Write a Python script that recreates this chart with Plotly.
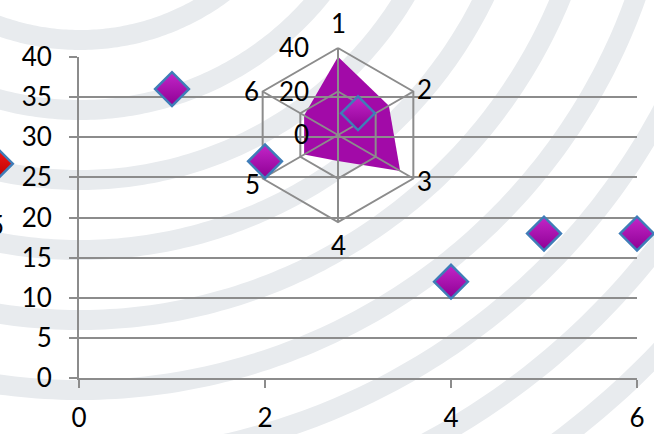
import numpy as np
import plotly.graph_objects as go

# ---------------- data ----------------
X_VALUES = [1, 2, 3, 4, 5, 6]
Y_VALUES = [36, 27, 33, 12, 18, 18]
RED_X = [-0.84]
RED_Y = [26.7]
RADAR_CATEGORIES = ["1", "2", "3", "4", "5", "6"]
RADAR_VALUES = [36, 27, 33, 12, 18, 18]
RADAR_TICKS = [0, 20, 40]
X_TICKS = [0, 2, 4, 6]
Y_TICKS = [0, 5, 10, 15, 20, 25, 30, 35, 40]

# ---------------- layout constants (pixels) ----------------
W, H = 654, 434
FONT = "Lato"
FS = 26
GRID = "#8C8C8C"
MAG = "#C326C8"
MAG_DARK = "#8E0094"
OUTLINE = "#3F7DB8"

# scatter plot area
PL, PR, PT, PB = 79, 637, 57, 378
X_RANGE = [0, 6]
Y_RANGE = [0, 40]
# radar: centre and radius (px) of the outer ring
RCX, RCY, RR = 338, 135, 87
RHALF = 130
RMAX = RADAR_TICKS[-1]
scale = RR / RMAX  # px per radar unit
rng = RHALF / scale

fig = go.Figure()

# ---------------- radar (drawn first, below the scatter grid) ----------------
n = len(RADAR_CATEGORIES)
ang = np.deg2rad(90 - 360.0 / n * np.arange(n))
rv = np.array(RADAR_VALUES, dtype=float)
fx = list(rv * np.cos(ang)) + [rv[0] * np.cos(ang[0])]
fy = list(rv * np.sin(ang)) + [rv[0] * np.sin(ang[0])]
fig.add_trace(go.Scatter(x=fx, y=fy, mode="lines", fill="toself",
                         fillcolor="#A20AA8", line=dict(width=0, color="#A20AA8"),
                         hoverinfo="skip", showlegend=False, xaxis="x", yaxis="y"))

gx, gy = [], []
for t in RADAR_TICKS[1:]:
    gx += list(t * np.cos(ang)) + [t * np.cos(ang[0]), None]
    gy += list(t * np.sin(ang)) + [t * np.sin(ang[0]), None]
for a in ang:
    gx += [0, RMAX * np.cos(a), None]
    gy += [0, RMAX * np.sin(a), None]
fig.add_trace(go.Scatter(x=gx, y=gy, mode="lines", line=dict(color=GRID, width=2),
                         hoverinfo="skip", showlegend=False, xaxis="x", yaxis="y"))

annotations = []
label_shift = [(0, 25), (11, 3), (11, -2), (0, -23), (-10, -5), (-11, 1)]
for cat, a, (dx, dy) in zip(RADAR_CATEGORIES, ang, label_shift):
    annotations.append(dict(x=RMAX * np.cos(a), y=RMAX * np.sin(a), xref="x", yref="y",
                            text=cat, showarrow=False, xanchor="center", yanchor="middle",
                            xshift=dx, yshift=dy, font=dict(family=FONT, size=FS, color="black")))
for t in RADAR_TICKS:
    annotations.append(dict(x=0, y=t, xref="x", yref="y", text=str(t), showarrow=False,
                            xanchor="right", yanchor="middle", xshift=-27, yshift=1,
                            font=dict(family=FONT, size=FS, color="black")))

# stray clipped label at the left edge
annotations.append(dict(x=-4 / W, y=1 - 225 / H, xref="paper", yref="paper", text="5",
                        showarrow=False, xanchor="center", yanchor="middle",
                        font=dict(family=FONT, size=FS, color="black")))

# ---------------- scatter (on top) ----------------
fig.add_trace(go.Scatter(x=X_VALUES, y=Y_VALUES, mode="markers", cliponaxis=False,
                         marker=dict(symbol="diamond", size=26, color=MAG,
                                     gradient=dict(type="vertical", color=MAG_DARK),
                                     line=dict(color=OUTLINE, width=2.5)),
                         showlegend=False, xaxis="x2", yaxis="y2"))
# red point lies left of the plot area: own subplot spanning to the figure edge
fig.add_trace(go.Scatter(x=RED_X, y=RED_Y, mode="markers", cliponaxis=False,
                         marker=dict(symbol="diamond", size=26, color="#F41A1A",
                                     gradient=dict(type="vertical", color="#B80000"),
                                     angle=90, standoff=5,
                                     line=dict(color=OUTLINE, width=2.5)),
                         showlegend=False, xaxis="x3", yaxis="y3"))

# ---------------- background watermark arcs ----------------
shapes = []
acx, acy = 80, -200
for k in range(10):
    r = 240 + 70 * k
    t = np.linspace(0, np.pi, 240)
    px = acx + r * np.cos(t)
    py = acy + r * np.sin(t)
    mask = (py > -30) & (px > -40) & (px < W + 40)
    px, py = px[mask], py[mask]
    if len(px) < 2:
        continue
    pts = [f"{x / W:.5f},{1 - y / H:.5f}" for x, y in zip(px, py)]
    shapes.append(dict(type="path", path="M " + " L ".join(pts), xref="paper", yref="paper",
                       line=dict(color="#E8EBEE", width=20), layer="below"))

axis_font = dict(family=FONT, size=FS, color="black")
px_per_x = (PR - PL) / (X_RANGE[1] - X_RANGE[0])
hidden = dict(visible=False, fixedrange=True, automargin=False)
fig.update_layout(
    width=W, height=H, margin=dict(l=0, r=0, t=0, b=0, pad=0), autosize=False,
    paper_bgcolor="white", plot_bgcolor="rgba(0,0,0,0)",
    showlegend=False, shapes=shapes, annotations=annotations,
    xaxis=dict(domain=[(RCX - RHALF) / W, (RCX + RHALF) / W], range=[-rng, rng],
               anchor="y", **hidden),
    yaxis=dict(domain=[(H - RCY - RHALF) / H, (H - RCY + RHALF) / H], range=[-rng, rng],
               anchor="x", **hidden),
    xaxis2=dict(domain=[PL / W, PR / W], range=X_RANGE, anchor="y2", automargin=False,
                tickvals=X_TICKS, ticktext=[str(v) for v in X_TICKS],
                showgrid=False, zeroline=False, showline=True, linecolor=GRID, linewidth=2,
                ticks="outside", ticklen=8, tickwidth=2, tickcolor=GRID,
                ticklabelstandoff=8, tickfont=axis_font),
    yaxis2=dict(domain=[(H - PB) / H, (H - PT) / H], range=Y_RANGE, anchor="x2",
                automargin=False,
                tickvals=Y_TICKS, ticktext=[str(v) for v in Y_TICKS],
                showgrid=True, gridcolor=GRID, gridwidth=2, zeroline=False,
                showline=True, linecolor=GRID, linewidth=2,
                ticks="outside", ticklen=8, tickwidth=2, tickcolor=GRID,
                ticklabelstandoff=12, tickfont=axis_font),
    xaxis3=dict(domain=[0, PR / W], range=[X_RANGE[0] - PL / px_per_x, X_RANGE[1]],
                anchor="y3", **hidden),
    yaxis3=dict(domain=[(H - PB) / H, (H - PT) / H], range=Y_RANGE, anchor="x3", **hidden),
)

fig.write_html("out.html")
